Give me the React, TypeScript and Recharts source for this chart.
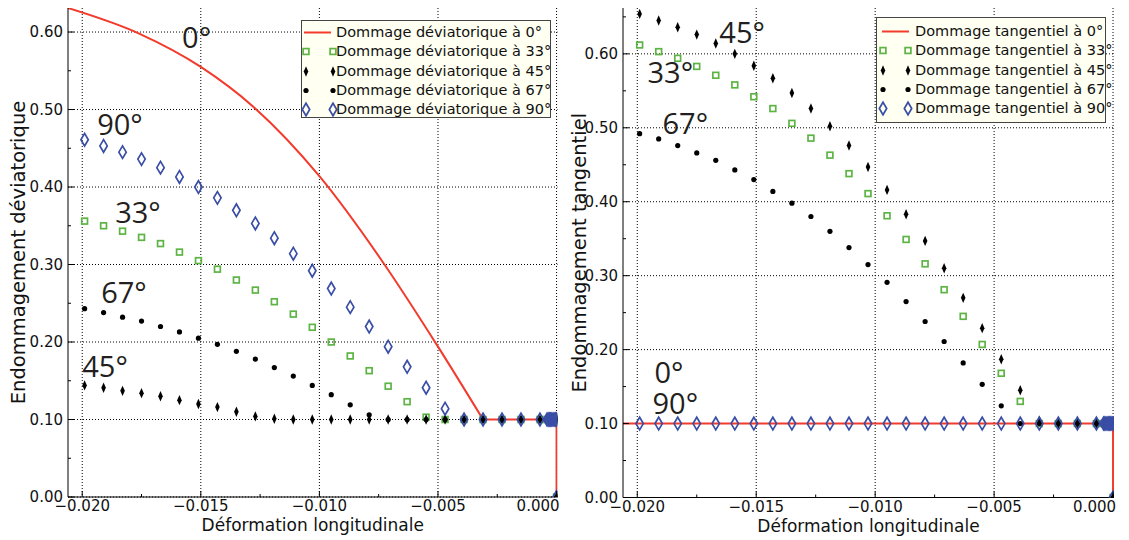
import React from 'react';
import {
  ComposedChart,
  Line,
  Scatter,
  XAxis,
  YAxis,
  CartesianGrid,
  ReferenceDot,
  Legend,
} from 'recharts';

// ---------------- data ----------------
const strain = [
  -0.0199, -0.0191, -0.0183, -0.0175, -0.0167, -0.0159, -0.0151, -0.0143, -0.0135, -0.0127,
  -0.0119, -0.0111, -0.0103, -0.0095, -0.0087, -0.0079, -0.0071, -0.0063, -0.0055, -0.0047,
  -0.0039, -0.0031, -0.0023, -0.0015, -0.0007,
  -0.0004, -0.00035, -0.0003, -0.00025, -0.0002, -0.00015, -0.0001, -0.00005, 0.0,
  0.0,
];

const dev33 = [
  0.356, 0.350, 0.343, 0.335, 0.327, 0.316, 0.305, 0.294, 0.280, 0.267,
  0.252, 0.236, 0.219, 0.200, 0.182, 0.163, 0.143, 0.123, 0.103, 0.100,
  0.100, 0.100, 0.100, 0.100, 0.100,
  0.1, 0.1, 0.1, 0.1, 0.1, 0.1, 0.1, 0.1, 0.1,
  0.0,
];
const dev45 = [
  0.144, 0.141, 0.137, 0.134, 0.130, 0.125, 0.120, 0.116, 0.110, 0.104,
  0.101, 0.100, 0.100, 0.100, 0.100, 0.100, 0.100, 0.100, 0.100, 0.100,
  0.100, 0.100, 0.100, 0.100, 0.100,
  0.1, 0.1, 0.1, 0.1, 0.1, 0.1, 0.1, 0.1, 0.1,
  0.0,
];
const dev67 = [
  0.243, 0.238, 0.232, 0.227, 0.220, 0.213, 0.205, 0.197, 0.188, 0.178,
  0.167, 0.156, 0.144, 0.132, 0.119, 0.106, 0.100, 0.100, 0.100, 0.100,
  0.100, 0.100, 0.100, 0.100, 0.100,
  0.1, 0.1, 0.1, 0.1, 0.1, 0.1, 0.1, 0.1, 0.1,
  0.0,
];
const dev90 = [
  0.461, 0.453, 0.445, 0.436, 0.425, 0.413, 0.400, 0.386, 0.370, 0.353,
  0.334, 0.314, 0.292, 0.269, 0.245, 0.220, 0.194, 0.168, 0.141, 0.114,
  0.100, 0.100, 0.100, 0.100, 0.100,
  0.1, 0.1, 0.1, 0.1, 0.1, 0.1, 0.1, 0.1, 0.1,
  0.0,
];
// 0° deviatoric damage: curved part and flat tail (with final drop to zero)
const dev0CurveX = [-0.0206, -0.0176, -0.0150, -0.0128, -0.0100, -0.0073, -0.0050, -0.0031];
const dev0CurveY = [0.631, 0.598, 0.555, 0.504, 0.414, 0.302, 0.194, 0.100];
const dev0TailX = [-0.0031, 0.0, 0.0];
const dev0TailY = [0.100, 0.100, 0.0];

const tan33 = [
  0.612, 0.603, 0.594, 0.583, 0.571, 0.558, 0.542, 0.526, 0.506, 0.486,
  0.463, 0.438, 0.411, 0.381, 0.349, 0.316, 0.281, 0.245, 0.207, 0.168,
  0.130, 0.100, 0.100, 0.100, 0.100,
  0.1, 0.1, 0.1, 0.1, 0.1, 0.1, 0.1, 0.1, 0.1,
  0.0,
];
const tan45 = [
  0.654, 0.645, 0.636, 0.626, 0.614, 0.600, 0.584, 0.567, 0.547, 0.526,
  0.502, 0.476, 0.447, 0.416, 0.383, 0.347, 0.310, 0.270, 0.229, 0.187,
  0.145, 0.104, 0.100, 0.100, 0.100,
  0.1, 0.1, 0.1, 0.1, 0.1, 0.1, 0.1, 0.1, 0.1,
  0.0,
];
const tan67 = [
  0.492, 0.485, 0.476, 0.466, 0.456, 0.443, 0.430, 0.414, 0.398, 0.380,
  0.360, 0.338, 0.315, 0.291, 0.265, 0.238, 0.211, 0.182, 0.153, 0.124,
  0.100, 0.100, 0.100, 0.100, 0.100,
  0.1, 0.1, 0.1, 0.1, 0.1, 0.1, 0.1, 0.1, 0.1,
  0.0,
];
const tan90 = [
  0.100, 0.100, 0.100, 0.100, 0.100, 0.100, 0.100, 0.100, 0.100, 0.100,
  0.100, 0.100, 0.100, 0.100, 0.100, 0.100, 0.100, 0.100, 0.100, 0.100,
  0.100, 0.100, 0.100, 0.100, 0.100,
  0.1, 0.1, 0.1, 0.1, 0.1, 0.1, 0.1, 0.1, 0.1,
  0.0,
];
const tan0CurveX = [-0.0206, -0.0031];
const tan0CurveY = [0.1, 0.1];
const tan0TailX = [-0.0031, 0.0, 0.0];
const tan0TailY = [0.1, 0.1, 0.0];

const xMajorTicks = [-0.02, -0.015, -0.01, -0.005, 0];
const xMinorTicks = [-0.0175, -0.0125, -0.0075, -0.0025];
const yMajorTicks = [0, 0.1, 0.2, 0.3, 0.4, 0.5, 0.6];
const yMinorTicksDev = [0.05, 0.15, 0.25, 0.35, 0.45, 0.55];
const yMinorTicksTan = [0.05, 0.15, 0.25, 0.35, 0.45, 0.55, 0.65];

const devNames = [
  'Dommage déviatorique à 0°',
  'Dommage déviatorique à 33°',
  'Dommage déviatorique à 45°',
  'Dommage déviatorique à 67°',
  'Dommage déviatorique à 90°',
];
const tanNames = [
  'Dommage tangentiel à 0°',
  'Dommage tangentiel à 33°',
  'Dommage tangentiel à 45°',
  'Dommage tangentiel à 67°',
  'Dommage tangentiel à 90°',
];

const devNotes = [
  { text: '0°', x: -0.01579, y: 0.579 },
  { text: '90°', x: -0.01937, y: 0.467 },
  { text: '33°', x: -0.01861, y: 0.3535 },
  { text: '67°', x: -0.0192, y: 0.2503 },
  { text: '45°', x: -0.02, y: 0.1548 },
];
const tanNotes = [
  { text: '45°', x: -0.01655, y: 0.6147 },
  { text: '33°', x: -0.01957, y: 0.5607 },
  { text: '67°', x: -0.01894, y: 0.4919 },
  { text: '0°', x: -0.01928, y: 0.1545 },
  { text: '90°', x: -0.01936, y: 0.113 },
];

// ---------------- style ----------------
const FONT = '"DejaVu Sans", "Liberation Sans", sans-serif';
const NOTE_FONT = '"Open Sans", "Noto Sans", sans-serif';
const RED = '#f23b2c';
const GREEN = '#5db445';
const BLUE = '#3a4ea6';
const INK = '#111';
const X_DOMAIN: [number, number] = [-0.0206, 0.00004];
const TICK_FS = 15;
const XTITLE_FS = 17;
const YTITLE_FS = 19.5;

const zip = (xs: number[], ys: number[]) => xs.map((x, i) => ({ x, y: ys[i] }));
const isMult = (v: number, step: number) => {
  const r = v / step;
  return Math.abs(r - Math.round(r)) < 1e-6;
};
const fmtX = (v: number) => (Math.abs(v) < 1e-12 ? '0.000' : '\u2212' + Math.abs(v).toFixed(3));
const fmtY = (v: number) => v.toFixed(2);

// ---------------- markers ----------------
const Marker = ({ kind, cx, cy }: { kind: string; cx: number; cy: number }) => {
  if (cx == null || cy == null || isNaN(cx) || isNaN(cy)) return null;
  if (kind === 'sq')
    return (
      <rect x={cx - 2.9} y={cy - 2.9} width={5.8} height={5.8} fill="none" stroke={GREEN} strokeWidth={1.7} />
    );
  if (kind === 'kd')
    return (
      <path d={`M${cx},${cy - 5.2} L${cx + 2.3},${cy} L${cx},${cy + 5.2} L${cx - 2.3},${cy} Z`} fill="#000" />
    );
  if (kind === 'dot') return <circle cx={cx} cy={cy} r={2.6} fill="#000" />;
  if (kind === 'bd')
    return (
      <path
        d={`M${cx},${cy - 6.3} L${cx + 3.7},${cy} L${cx},${cy + 6.3} L${cx - 3.7},${cy} Z`}
        fill="none"
        stroke={BLUE}
        strokeWidth={1.7}
      />
    );
  return null;
};
const KINDS = ['line', 'sq', 'kd', 'dot', 'bd'];

// ---------------- ticks ----------------
const LeftTick = (p: any) => {
  const v = p.payload.value;
  const major = isMult(v, 0.1);
  return (
    <g>
      <line x1={p.x} x2={p.x + (major ? 6 : 3)} y1={p.y} y2={p.y} stroke="#000" strokeWidth={1} />
      {major && (
        <text x={p.x - 5} y={p.y} dy="0.36em" textAnchor="end" fontFamily={FONT} fontSize={TICK_FS} fill={INK}>
          {fmtY(v)}
        </text>
      )}
    </g>
  );
};
const RightTick = (p: any) => {
  const v = p.payload.value;
  const major = isMult(v, 0.1);
  return <line x1={p.x} x2={p.x - (major ? 6 : 3)} y1={p.y} y2={p.y} stroke="#000" strokeWidth={1} />;
};
const BottomTick = (p: any) => {
  const v = p.payload.value;
  const major = isMult(v, 0.005);
  const isZero = Math.abs(v) < 1e-12;
  return (
    <g>
      <line x1={p.x} x2={p.x} y1={p.y} y2={p.y - (major ? 6 : 3)} stroke="#000" strokeWidth={1} />
      {major && (
        <text
          x={isZero ? p.x + 3 : p.x}
          y={p.y + 14}
          textAnchor={isZero ? 'end' : 'middle'}
          fontFamily={FONT}
          fontSize={TICK_FS}
          fill={INK}
        >
          {fmtX(v)}
        </text>
      )}
    </g>
  );
};
const TopTick = (p: any) => {
  const v = p.payload.value;
  const major = isMult(v, 0.005);
  return <line x1={p.x} x2={p.x} y1={p.y} y2={p.y + (major ? 6 : 3)} stroke="#000" strokeWidth={1} />;
};

const XTitle = (p: any) => {
  const vb = p.viewBox || {};
  return (
    <text x={vb.x + vb.width / 2} y={vb.y + 34} textAnchor="middle" fontFamily={FONT} fontSize={XTITLE_FS} fill={INK}>
      Déformation longitudinale
    </text>
  );
};
const YTitle = (p: any) => {
  const vb = p.viewBox || {};
  const cx = vb.x + p.dx0;
  const cy = vb.y + vb.height / 2;
  return (
    <text
      x={cx}
      y={cy}
      transform={`rotate(-90, ${cx}, ${cy})`}
      textAnchor="middle"
      dominantBaseline="central"
      fontFamily={FONT}
      fontSize={YTITLE_FS}
      fill={INK}
    >
      {p.text}
    </text>
  );
};

// ---------------- legend ----------------
const LegendBox = ({ names, svgW, m1, m2, lineX1, lineX2, padTop }: any) => (
  <div
    style={{
      boxSizing: 'border-box',
      width: '100%',
      height: '100%',
      background: '#fffff2',
      border: '1px solid #444',
      fontFamily: FONT,
      fontSize: 14.5,
      color: INK,
      paddingTop: padTop,
      overflow: 'visible',
    }}
  >
    {names.map((name: string, i: number) => (
      <div key={name} style={{ display: 'flex', alignItems: 'center', height: 19.3, whiteSpace: 'nowrap' }}>
        <svg width={svgW} height={19} style={{ flex: 'none', overflow: 'visible' }}>
          {i === 0 ? (
            <line x1={lineX1} x2={lineX2} y1={9.5} y2={9.5} stroke={RED} strokeWidth={2} />
          ) : (
            <>
              <Marker kind={KINDS[i]} cx={m1} cy={9.5} />
              <Marker kind={KINDS[i]} cx={m2} cy={9.5} />
            </>
          )}
        </svg>
        <span style={{ lineHeight: '19px' }}>{name}</span>
      </div>
    ))}
  </div>
);

// ---------------- panel ----------------
const Panel = (props: any) => {
  const {
    width, marginRight, xAxisHeight, yAxisWidth, yDomain, yMinor, yTitle, yTitleDx,
    curveX, curveY, tailX, tailY, s33, s45, s67, s90, names, legendStyle, legendLayout, notes,
  } = props;
  const xTicks = [...xMajorTicks, ...xMinorTicks].sort((a, b) => a - b);
  const yTicks = [...yMajorTicks, ...yMinor].sort((a, b) => a - b);
  return (
    <ComposedChart width={width} height={540} margin={{ top: 8, right: marginRight, bottom: 0, left: 0 }}>
      <CartesianGrid
        stroke="#000"
        strokeWidth={1}
        strokeDasharray="1 2"
        horizontalValues={yMajorTicks}
        verticalValues={xMajorTicks}
      />
      <XAxis
        type="number"
        dataKey="x"
        domain={X_DOMAIN}
        allowDataOverflow
        ticks={xTicks}
        interval={0}
        height={xAxisHeight}
        tickSize={0}
        tickMargin={0}
        tickLine={false}
        axisLine={{ stroke: '#000' }}
        tick={<BottomTick />}
        label={<XTitle />}
      />
      <YAxis
        type="number"
        dataKey="y"
        domain={yDomain}
        allowDataOverflow
        ticks={yTicks}
        interval={0}
        width={yAxisWidth}
        tickSize={0}
        tickMargin={0}
        tickLine={false}
        axisLine={{ stroke: '#000' }}
        tick={<LeftTick />}
        label={<YTitle text={yTitle} dx0={yTitleDx} />}
      />
      <XAxis
        xAxisId="top"
        orientation="top"
        type="number"
        dataKey="x"
        domain={X_DOMAIN}
        allowDataOverflow
        ticks={xTicks}
        interval={0}
        height={0}
        tickSize={0}
        tickMargin={0}
        tickLine={false}
        axisLine={{ stroke: '#000' }}
        tick={<TopTick />}
      />
      <YAxis
        yAxisId="right"
        orientation="right"
        type="number"
        dataKey="y"
        domain={yDomain}
        allowDataOverflow
        ticks={yTicks}
        interval={0}
        width={0}
        tickSize={0}
        tickMargin={0}
        tickLine={false}
        axisLine={{ stroke: '#000' }}
        tick={<RightTick />}
      />
      <Line
        data={zip(curveX, curveY)}
        dataKey="y"
        type="monotoneX"
        stroke={RED}
        strokeWidth={2}
        dot={false}
        isAnimationActive={false}
        name={names[0]}
      />
      <Line
        data={zip(tailX, tailY)}
        dataKey="y"
        type="linear"
        stroke={RED}
        strokeWidth={2}
        dot={false}
        isAnimationActive={false}
        name={names[0] + ' (palier)'}
      />
      <Scatter data={zip(strain, s33)} dataKey="y" isAnimationActive={false} name={names[1]}
        shape={(p: any) => <Marker kind="sq" cx={p.cx} cy={p.cy} />} />
      <Scatter data={zip(strain, s45)} dataKey="y" isAnimationActive={false} name={names[2]}
        shape={(p: any) => <Marker kind="kd" cx={p.cx} cy={p.cy} />} />
      <Scatter data={zip(strain, s67)} dataKey="y" isAnimationActive={false} name={names[3]}
        shape={(p: any) => <Marker kind="dot" cx={p.cx} cy={p.cy} />} />
      <Scatter data={zip(strain, s90)} dataKey="y" isAnimationActive={false} name={names[4]}
        shape={(p: any) => <Marker kind="bd" cx={p.cx} cy={p.cy} />} />
      {notes.map((n: any) => (
        <ReferenceDot
          key={n.text}
          x={n.x}
          y={n.y}
          r={0}
          ifOverflow="visible"
          shape={(p: any) => (
            <text x={p.cx} y={p.cy} fontFamily={NOTE_FONT} fontSize={29} fill="#231f20">
              {n.text}
            </text>
          )}
        />
      ))}
      <Legend
        layout="vertical"
        align="center"
        verticalAlign="middle"
        wrapperStyle={legendStyle}
        content={() => <LegendBox names={names} {...legendLayout} />}
      />
    </ComposedChart>
  );
};

export default function App() {
  return (
    <div style={{ position: 'absolute', left: 0, top: 0, width: 1129, height: 540, background: '#fff', overflow: 'hidden' }}>
      <div style={{ position: 'absolute', left: 0, top: 0 }}>
        <Panel
          width={570}
          marginRight={12.5}
          xAxisHeight={43}
          yAxisWidth={68}
          yDomain={[0, 0.631]}
          yMinor={yMinorTicksDev}
          yTitle="Endommagement déviatorique"
          yTitleDx={18}
          curveX={dev0CurveX}
          curveY={dev0CurveY}
          tailX={dev0TailX}
          tailY={dev0TailY}
          s33={dev33}
          s45={dev45}
          s67={dev67}
          s90={dev90}
          names={devNames}
          notes={devNotes}
          legendStyle={{ left: 301, top: 20, width: 250, height: 98 }}
          legendLayout={{ svgW: 34, m1: 4, m2: 31, lineX1: 2, lineX2: 29, padTop: 2 }}
        />
      </div>
      <div style={{ position: 'absolute', left: 556, top: 0 }}>
        <Panel
          width={573}
          marginRight={15}
          xAxisHeight={42.5}
          yAxisWidth={67}
          yDomain={[0, 0.662]}
          yMinor={yMinorTicksTan}
          yTitle="Endommagement tangentiel"
          yTitleDx={23}
          curveX={tan0CurveX}
          curveY={tan0CurveY}
          tailX={tan0TailX}
          tailY={tan0TailY}
          s33={tan33}
          s45={tan45}
          s67={tan67}
          s90={tan90}
          names={tanNames}
          notes={tanNotes}
          legendStyle={{ left: 320, top: 17, width: 230, height: 106 }}
          legendLayout={{ svgW: 38, m1: 6, m2: 31, lineX1: 5, lineX2: 32, padTop: 4 }}
        />
      </div>
    </div>
  );
}
